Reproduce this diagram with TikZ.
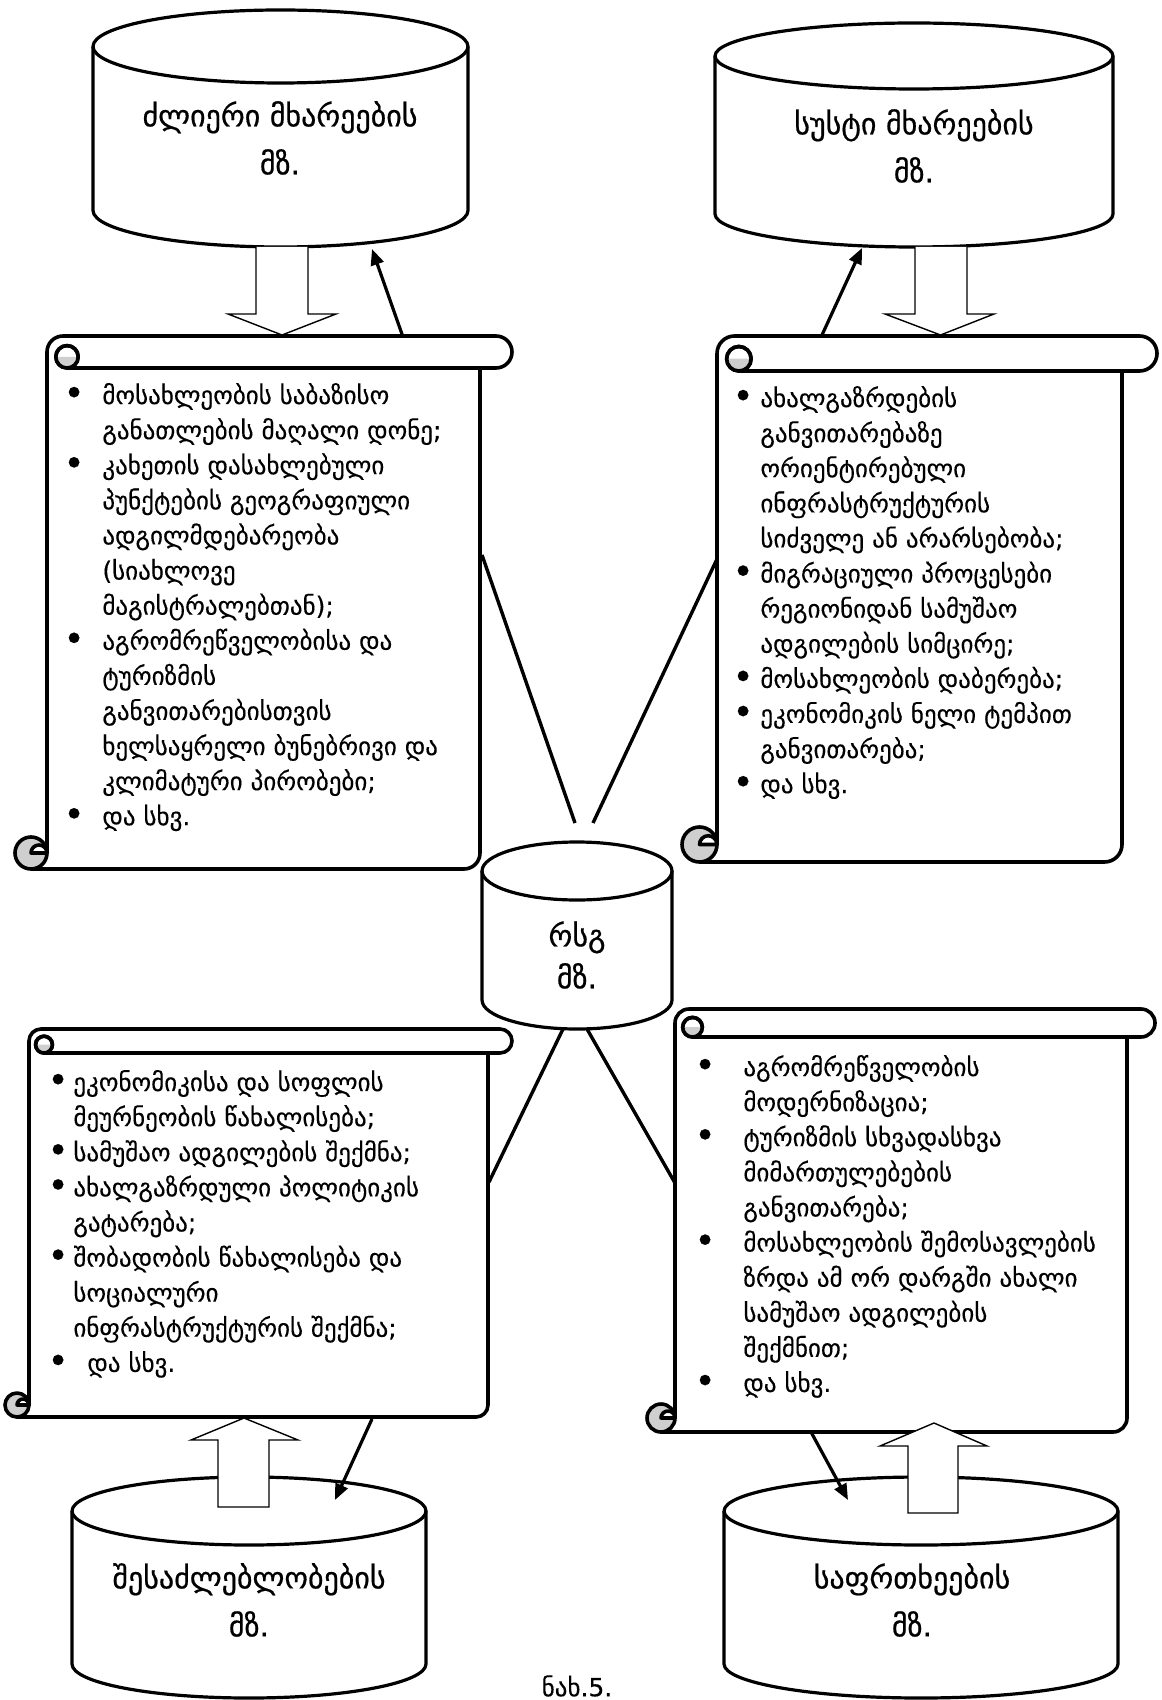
\documentclass[tikz,border=0pt]{standalone}
\usepackage{fontspec}
\setmainfont{DejaVu Sans}
\newfontfamily\cylfont[FakeBold=0.6]{DejaVu Sans}
\newfontfamily\listfont[FakeBold=0.25]{DejaVu Sans}
\usepackage{graphicx}
\usepackage{tikz}
\usetikzlibrary{arrows, arrows.meta}
\definecolor{rollgray}{HTML}{CFCFCF}
\newcommand{\bul}{\raisebox{-0.8pt}{\scalebox{1.45}{•}}}

% cylinder: cx, top ellipse y, bottom ellipse y, x radius, y radius
\newcommand{\drawcyl}[5]{%
  \draw[cylline, fill=white] ({#1-#4},#2) -- ({#1-#4},#3)
    arc[start angle=180, end angle=360, x radius=#4*0.5pt, y radius=#5*0.5pt]
    -- ({#1+#4},#2)
    arc[start angle=0, end angle=180, x radius=#4*0.5pt, y radius=#5*0.5pt];
  \draw[cylline] ({#1-#4},#2)
    arc[start angle=180, end angle=360, x radius=#4*0.5pt, y radius=#5*0.5pt];}

% scroll: left, right, top, bottom, roll radius
\newcommand{\drawscroll}[5]{%
  \draw[scrollline, fill=white] (#1,{#4-#5}) -- (#1,{#3+#5})
    arc[start angle=180, end angle=90, radius=#5*0.5pt]
    -- ({#2+#5},#3)
    arc[start angle=90, end angle=-90, radius=#5*0.5pt]
    -- (#2,{#3+2*#5}) -- (#2,{#4-#5})
    arc[start angle=0, end angle=-90, radius=#5*0.5pt]
    -- ({#1-#5},#4);
  \draw[scrollline] ({#1+1.25*#5},{#3+2*#5}) -- (#2,{#3+2*#5});
  \filldraw[scrollline, fill=white] ({#1+1.25*#5},{#3+1.3*#5}) circle[radius=#5*0.35pt];
  \fill[rollgray] ({#1+0.55*#5},{#3+1.3*#5})
    arc[start angle=180, end angle=360, radius=#5*0.35pt] -- cycle;
  \draw[scrollline] ({#1+1.25*#5},{#3+1.3*#5}) circle[radius=#5*0.35pt];
  \filldraw[scrollline, fill=rollgray] ({#1-#5},{#4-#5}) circle[radius=#5*0.5pt];
  \filldraw[scrollline, fill=white] ({#1-#5},{#4-#5})
    arc[start angle=180, end angle=0, radius=#5*0.25pt] -- cycle;}

\begin{document}
\begin{tikzpicture}[x=0.5pt, y=-0.5pt,
  cylline/.style={line width=1.6pt, line join=round},
  scrollline/.style={line width=1.8pt, line join=round},
  link/.style={line width=1.7pt},
  pointer/.style={->, line width=1.6pt},
  >={Triangle[length=8pt, width=6.5pt]},
  blockarrow/.style={draw, fill=white, line width=0.7pt},
  cyltext/.style={font=\cylfont\fontsize{15}{24}\selectfont, align=center, inner sep=0pt},
  listtext/.style={font=\listfont\fontsize{12.5}{17.55}\selectfont, anchor=base west, inner sep=0pt}]
\fill[white] (0,0) rectangle (1161,1700);
\useasboundingbox (0,0) rectangle (1161,1700);

% lines to the centre
\coordinate (strongSide) at (482,555);
\coordinate (weakSide) at (717,559);
\coordinate (opportSide) at (489,1182);
\coordinate (threatSide) at (675,1183);
\coordinate (rsgTopL) at (575,823);
\coordinate (rsgTopR) at (593,823);
\coordinate (rsgBotL) at (563,1029);
\coordinate (rsgBotR) at (587,1029);
\draw[link] (strongSide) -- (rsgTopL);
\draw[link] (weakSide) -- (rsgTopR);
\draw[link] (rsgBotL) -- (opportSide);
\draw[link] (rsgBotR) -- (threatSide);

% scrolls
\drawscroll{47}{480}{336}{869}{16}
\drawscroll{717}{1122}{336}{862}{17.5}
\drawscroll{29}{488}{1029}{1417}{12}
\drawscroll{675}{1127}{1009}{1432}{14}

\node[listtext] (strongList) at (63,404) {\begin{tabular}[t]{@{}l@{}l@{}}
\makebox[19.5pt][l]{\bul} & მოსახლეობის საბაზისო\\
 & განათლების მაღალი დონე;\\
\bul & კახეთის დასახლებული\\
 & პუნქტების გეოგრაფიული\\
 & ადგილმდებარეობა\\
 & (სიახლოვე\\
 & მაგისტრალებთან);\\
\bul & აგრომრეწველობისა და\\
 & ტურიზმის\\
 & განვითარებისთვის\\
 & ხელსაყრელი ბუნებრივი და\\
 & კლიმატური პირობები;\\
\bul & და სხვ.
\end{tabular}};

\node[listtext] (weakList) at (732,407) {\begin{tabular}[t]{@{}l@{}l@{}}
\makebox[14pt][l]{\bul} & ახალგაზრდების\\
 & განვითარებაზე\\
 & ორიენტირებული\\
 & ინფრასტრუქტურის\\
 & სიძველე ან არარსებობა;\\
\bul & მიგრაციული პროცესები\\
 & რეგიონიდან სამუშაო\\
 & ადგილების სიმცირე;\\
\bul & მოსახლეობის დაბერება;\\
\bul & ეკონომიკის ნელი ტემპით\\
 & განვითარება;\\
\bul & და სხვ.
\end{tabular}};

\node[listtext] (opportList) at (47,1091) {\begin{tabular}[t]{@{}l@{}l@{}}
\makebox[13pt][l]{\bul} & ეკონომიკისა და სოფლის\\
 & მეურნეობის წახალისება;\\
\bul & სამუშაო ადგილების შექმნა;\\
\bul & ახალგაზრდული პოლიტიკის\\
 & გატარება;\\
\bul & შობადობის წახალისება და\\
 & სოციალური\\
 & ინფრასტრუქტურის შექმნა;\\
\bul & \hspace{7pt}და სხვ.
\end{tabular}};

\node[listtext] (threatList) at (694,1076) {\begin{tabular}[t]{@{}l@{}l@{}}
\makebox[24.5pt][l]{\bul} & აგრომრეწველობის\\
 & მოდერნიზაცია;\\
\bul & ტურიზმის სხვადასხვა\\
 & მიმართულებების\\
 & განვითარება;\\
\bul & მოსახლეობის შემოსავლების\\
 & ზრდა ამ ორ დარგში ახალი\\
 & სამუშაო ადგილების\\
 & შექმნით;\\
\bul & და სხვ.
\end{tabular}};

% top bases and the centre one
\drawcyl{280.5}{46.5}{210.5}{187.5}{36.5}
\drawcyl{914}{56}{214}{199}{33}
\drawcyl{577}{871}{1000}{95}{29}
\node[cyltext] (strong) at (280,138) {ძლიერი მხარეების\\მზ.};
\node[cyltext] (weak) at (914,146) {სუსტი მხარეების\\მზ.};
\node[cyltext, font=\cylfont\fontsize{15}{21}\selectfont] (rsg) at (577,955) {რსგ\\მზ.};

\draw[blockarrow] (256,247) -- (256,314) -- (228,314) -- (282,335) -- (336,314) -- (308,314) -- (308,247);
\draw[blockarrow] (915,247) -- (915,314) -- (885,314) -- (940.5,335) -- (994,314) -- (967,314) -- (967,247);
\coordinate (strongFrom) at (403,337);
\coordinate (strongTo) at (372,249);
\coordinate (weakFrom) at (822,335);
\coordinate (weakTo) at (862,248);
\draw[pointer] (strongFrom) -- (strongTo);
\draw[pointer] (weakFrom) -- (weakTo);

% bottom bases
\drawcyl{249}{1511}{1664}{177}{34}
\drawcyl{921}{1511}{1664}{197}{34}
\node[cyltext] (opport) at (249,1600) {შესაძლებლობების\\მზ.};
\node[cyltext] (threat) at (912,1600) {საფრთხეების\\მზ.};

\draw[blockarrow] (218,1507) -- (218,1440) -- (191,1440) -- (244,1418) -- (298,1440) -- (269,1440) -- (269,1507) -- cycle;
\draw[blockarrow] (908,1513) -- (908,1446) -- (880,1446) -- (934,1423) -- (987,1446) -- (958,1446) -- (958,1513) -- cycle;
\coordinate (opportFrom) at (372,1419);
\coordinate (opportTo) at (335,1500);
\coordinate (threatFrom) at (811,1432);
\coordinate (threatTo) at (848,1500);
\draw[pointer] (opportFrom) -- (opportTo);
\draw[pointer] (threatFrom) -- (threatTo);

\node[listtext, anchor=center] (caption) at (577,1686) {ნახ.5.};
\end{tikzpicture}
\end{document}
